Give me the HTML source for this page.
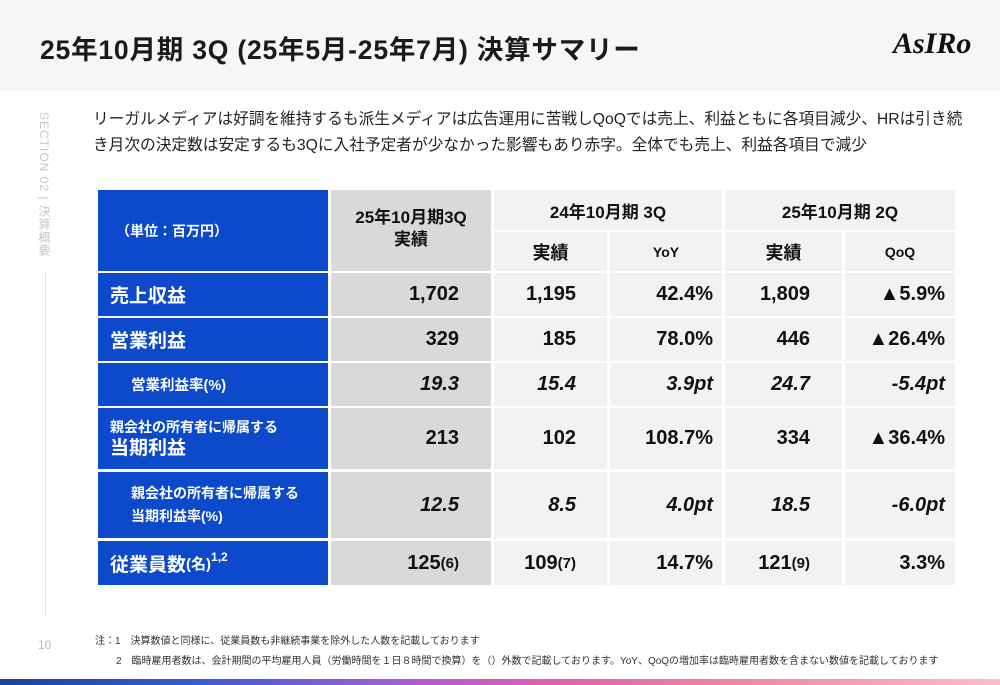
<!DOCTYPE html>
<html><head><meta charset="utf-8">
<style>
*{margin:0;padding:0;box-sizing:border-box}
body{width:1000px;height:685px;position:relative;overflow:hidden;background:#fff;font-family:"Liberation Sans","Noto Sans CJK JP",sans-serif;color:#222}
.hdr{position:absolute;left:0;top:0;width:1000px;height:91px;background:#f6f6f6}
.title{position:absolute;left:40px;top:28px;font-size:26.5px;font-weight:bold;color:#1a1a1a;letter-spacing:0.8px}
.logo{position:absolute;left:893px;top:27px;font-size:30px;font-style:italic;font-weight:bold;font-family:"Liberation Serif",serif;color:#111}
.lead{position:absolute;left:93px;top:107px;font-size:15.7px;line-height:26px;color:#222;white-space:nowrap}
.side{position:absolute;left:36px;top:112px;writing-mode:vertical-rl;font-size:12px;color:#c8c8c8;letter-spacing:1px}
.sline{position:absolute;left:45px;top:272px;width:1px;height:345px;background:#e6e6e6}
.pg{position:absolute;left:38px;top:638px;font-size:12px;color:#bbb}
.c{position:absolute;display:flex;align-items:center;font-weight:bold;font-size:20px;color:#111}
.b{background:#0c4acb;color:#fff}
.g{background:#d9d9d9}
.l{background:#f2f2f2}
.r{justify-content:flex-end}
.m{justify-content:center}
.i{font-style:italic}
.note{position:absolute;font-size:10px;color:#333}
.grad{position:absolute;left:0;top:679px;width:1000px;height:6px;background:linear-gradient(90deg,#1f3f9e 0%,#3b5bd6 20%,#9b5fd0 38%,#e05fb0 55%,#f08aa0 75%,#f6c0c8 100%)}
</style></head><body>
<div class="hdr"></div>
<div class="title">25年10月期 3Q (25年5月-25年7月) 決算サマリー</div>
<div class="logo">AsIRo</div>
<div class="side">SECTION 02 | 決算概要</div>
<div class="sline"></div>
<div class="pg">10</div>
<div class="lead">リーガルメディアは好調を維持するも派生メディアは広告運用に苦戦しQoQでは売上、利益ともに各項目減少、HRは引き続<br>き月次の決定数は安定するも3Qに入社予定者が少なかった影響もあり赤字。全体でも売上、利益各項目で減少</div>

<div>
<div class="c b" style="left:98px;top:190px;width:230px;height:81px;padding-left:18px;font-size:14px">（単位：百万円）</div>
<div class="c g m" style="left:331px;top:190px;width:160px;height:81px;font-size:17px;text-align:center;line-height:22px;align-items:flex-start;padding-top:17px">25年10月期3Q<br>実績</div>
<div class="c l m" style="left:494px;top:190px;width:228px;height:40px;font-size:17px">24年10月期 3Q</div>
<div class="c l m" style="left:725px;top:190px;width:230px;height:40px;font-size:17px">25年10月期 2Q</div>
<div class="c l m" style="left:494px;top:232px;width:113px;height:39px;font-size:18px">実績</div>
<div class="c l m" style="left:610px;top:232px;width:112px;height:39px;font-size:14px">YoY</div>
<div class="c l m" style="left:725px;top:232px;width:117px;height:39px;font-size:18px">実績</div>
<div class="c l m" style="left:845px;top:232px;width:110px;height:39px;font-size:14px">QoQ</div>

<div class="c b" style="left:98px;top:273px;width:230px;height:43px;padding-left:12px;font-size:19px">売上収益</div>
<div class="c g r" style="left:331px;top:273px;width:160px;height:43px;padding-right:32px">1,702</div>
<div class="c l r" style="left:494px;top:273px;width:113px;height:43px;padding-right:31px">1,195</div>
<div class="c l r" style="left:610px;top:273px;width:112px;height:43px;padding-right:9px">42.4%</div>
<div class="c l r" style="left:725px;top:273px;width:117px;height:43px;padding-right:32px">1,809</div>
<div class="c l r" style="left:845px;top:273px;width:110px;height:43px;padding-right:10px">▲5.9%</div>

<div class="c b" style="left:98px;top:318px;width:230px;height:43px;padding-left:12px;font-size:19px">営業利益</div>
<div class="c g r" style="left:331px;top:318px;width:160px;height:43px;padding-right:32px">329</div>
<div class="c l r" style="left:494px;top:318px;width:113px;height:43px;padding-right:31px">185</div>
<div class="c l r" style="left:610px;top:318px;width:112px;height:43px;padding-right:9px">78.0%</div>
<div class="c l r" style="left:725px;top:318px;width:117px;height:43px;padding-right:32px">446</div>
<div class="c l r" style="left:845px;top:318px;width:110px;height:43px;padding-right:10px">▲26.4%</div>

<div class="c b" style="left:98px;top:363px;width:230px;height:43px;padding-left:33px;font-size:14.5px">営業利益率(%)</div>
<div class="c g r i" style="left:331px;top:363px;width:160px;height:43px;padding-right:32px">19.3</div>
<div class="c l r i" style="left:494px;top:363px;width:113px;height:43px;padding-right:31px">15.4</div>
<div class="c l r i" style="left:610px;top:363px;width:112px;height:43px;padding-right:9px">3.9pt</div>
<div class="c l r i" style="left:725px;top:363px;width:117px;height:43px;padding-right:32px">24.7</div>
<div class="c l r i" style="left:845px;top:363px;width:110px;height:43px;padding-right:10px">-5.4pt</div>

<div class="c b" style="left:98px;top:408px;width:230px;height:61px;padding-left:12px;font-size:14px;line-height:21px"><div>親会社の所有者に帰属する<br><span style="font-size:19px">当期利益</span></div></div>
<div class="c g r" style="left:331px;top:408px;width:160px;height:61px;padding-right:32px">213</div>
<div class="c l r" style="left:494px;top:408px;width:113px;height:61px;padding-right:31px">102</div>
<div class="c l r" style="left:610px;top:408px;width:112px;height:61px;padding-right:9px">108.7%</div>
<div class="c l r" style="left:725px;top:408px;width:117px;height:61px;padding-right:32px">334</div>
<div class="c l r" style="left:845px;top:408px;width:110px;height:61px;padding-right:10px">▲36.4%</div>

<div class="c b" style="left:98px;top:472px;width:230px;height:66px;padding-left:33px;font-size:14px;line-height:23px"><div>親会社の所有者に帰属する<br>当期利益率(%)</div></div>
<div class="c g r i" style="left:331px;top:472px;width:160px;height:66px;padding-right:32px">12.5</div>
<div class="c l r i" style="left:494px;top:472px;width:113px;height:66px;padding-right:31px">8.5</div>
<div class="c l r i" style="left:610px;top:472px;width:112px;height:66px;padding-right:9px">4.0pt</div>
<div class="c l r i" style="left:725px;top:472px;width:117px;height:66px;padding-right:32px">18.5</div>
<div class="c l r i" style="left:845px;top:472px;width:110px;height:66px;padding-right:10px">-6.0pt</div>

<div class="c b" style="left:98px;top:541px;width:230px;height:44px;padding-left:12px;font-size:19px">従業員数<span style="font-size:15px">(名)</span><sup style="font-size:12px;align-self:flex-start;margin-top:9px">1,2</sup></div>
<div class="c g r" style="left:331px;top:541px;width:160px;height:44px;padding-right:32px">125<span style="font-size:15px">(6)</span></div>
<div class="c l r" style="left:494px;top:541px;width:113px;height:44px;padding-right:31px">109<span style="font-size:15px">(7)</span></div>
<div class="c l r" style="left:610px;top:541px;width:112px;height:44px;padding-right:9px">14.7%</div>
<div class="c l r" style="left:725px;top:541px;width:117px;height:44px;padding-right:32px">121<span style="font-size:15px">(9)</span></div>
<div class="c l r" style="left:845px;top:541px;width:110px;height:44px;padding-right:10px">3.3%</div>
</div>

<div class="note" style="left:95px;top:632px">注：1　決算数値と同様に、従業員数も非継続事業を除外した人数を記載しております</div>
<div class="note" style="left:116px;top:652px">2　臨時雇用者数は、会計期間の平均雇用人員（労働時間を１日８時間で換算）を（）外数で記載しております。YoY、QoQの増加率は臨時雇用者数を含まない数値を記載しております</div>
<div class="grad"></div>
</body></html>
